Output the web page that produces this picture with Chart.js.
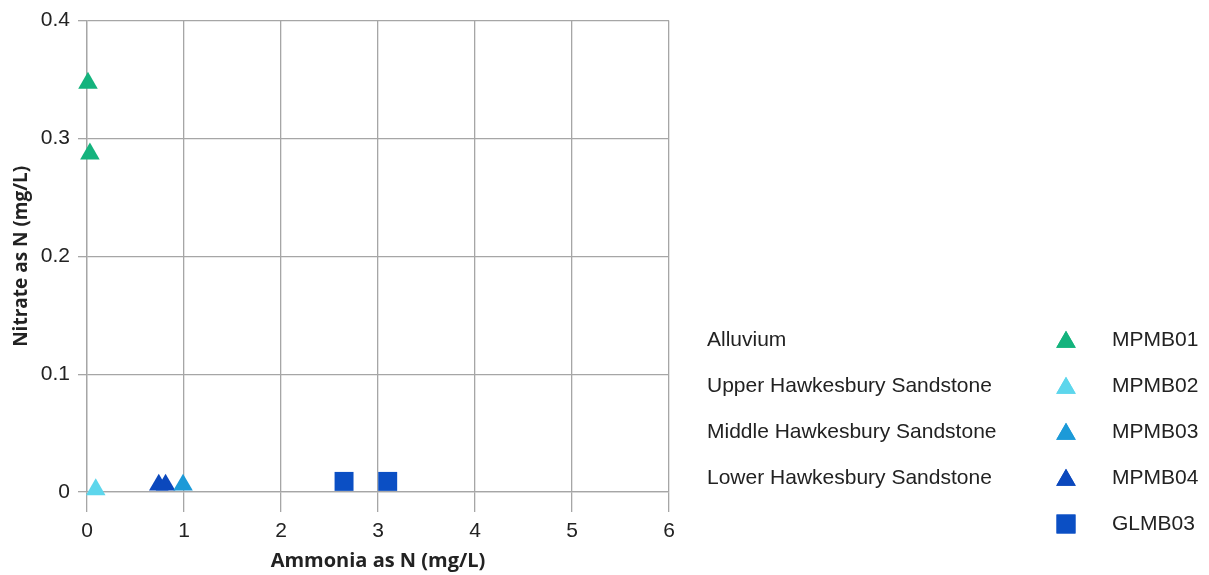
<!DOCTYPE html>
<html>
<head>
<meta charset="utf-8">
<script src="https://cdn.jsdelivr.net/npm/chart.js@4"></script>
<style>
  html, body { margin: 0; padding: 0; background: #fff; }
  #wrap { width: 1209px; height: 575px; position: relative; }
</style>
</head>
<body>
<div id="wrap"><canvas id="c" width="1209" height="575"></canvas></div>
<script>
// ---- data ----
const seriesNames = ['MPMB01', 'MPMB02', 'MPMB03', 'MPMB04', 'GLMB03'];
const groupLabels = ['Alluvium', 'Upper Hawkesbury Sandstone', 'Middle Hawkesbury Sandstone', 'Lower Hawkesbury Sandstone'];
const mpmb01 = [{x: 0.01, y: 0.347}, {x: 0.03, y: 0.287}];
const mpmb02 = [{x: 0.09, y: 0.002}];
const mpmb03 = [{x: 0.99, y: 0.006}];
const mpmb04 = [{x: 0.74, y: 0.006}, {x: 0.81, y: 0.006}];
const glmb03 = [{x: 2.65, y: 0.009}, {x: 3.10, y: 0.009}];
const xTicks = [0, 1, 2, 3, 4, 5, 6];
const yTicks = [0, 0.1, 0.2, 0.3, 0.4];
const xTitle = 'Ammonia as N (mg/L)';
const yTitle = 'Nitrate as N (mg/L)';

const colors = ['#14b37d', '#5dd6ec', '#1c9ad8', '#0b48bd', '#0b4fc4'];
const styles = ['triangle', 'triangle', 'triangle', 'triangle', 'rect'];
const seriesData = [mpmb01, mpmb02, mpmb03, mpmb04, glmb03];

const datasets = seriesNames.map((n, i) => ({
  label: n,
  data: seriesData[i],
  pointStyle: styles[i],
  pointRadius: styles[i] === 'rect' ? 13.4 : 11.3,
  pointHoverRadius: styles[i] === 'rect' ? 13.4 : 11.3,
  backgroundColor: colors[i],
  borderColor: colors[i],
  borderWidth: 0,
  showLine: false,
  clip: false
}));

const legendPlugin = {
  id: 'customLegend',
  afterDraw(chart) {
    const ctx = chart.ctx;
    const rowY = [340, 386, 432, 478, 524];
    ctx.save();
    ctx.font = '21px "Liberation Sans", Arial, sans-serif';
    ctx.fillStyle = '#222';
    ctx.textBaseline = 'middle';
    ctx.textAlign = 'left';
    groupLabels.forEach((g, i) => ctx.fillText(g, 707, rowY[i]));
    chart.data.datasets.forEach((ds, i) => {
      ctx.fillStyle = ds.backgroundColor;
      const r = ds.pointRadius;
      Chart.helpers.drawPoint(ctx, {pointStyle: ds.pointStyle, radius: r, borderWidth: 0, rotation: 0}, 1066, rowY[i] + (ds.pointStyle === 'triangle' ? 2 : 0));
      ctx.fill();
      ctx.fillStyle = '#222';
      ctx.fillText(ds.label, 1112, rowY[i]);
    });
    ctx.restore();
  }
};

new Chart(document.getElementById('c'), {
  type: 'scatter',
  data: { datasets },
  options: {
    responsive: false,
    animation: false,
    events: [],
    layout: { padding: { top: 20, right: 540, bottom: 2, left: 10 } },
    plugins: { legend: { display: false }, tooltip: { enabled: false } },
    scales: {
      x: {
        type: 'linear', min: 0, max: 6,
        afterBuildTicks: s => { s.ticks = xTicks.map(v => ({value: v})); },
        afterFit: s => { s.height = 575 - 492 - 2; },
        grid: { color: '#a6a6a6', lineWidth: 1.3, tickLength: 20, drawTicks: true },
        border: { color: '#a6a6a6', width: 1.3 },
        ticks: { font: { family: '"Liberation Sans", Arial, sans-serif', size: 21 }, color: '#222', padding: 7, maxRotation: 0 },
        title: { display: true, text: xTitle, font: { family: '"Open Sans", sans-serif', size: 20, weight: 'bold' }, color: '#222', padding: { top: 0, bottom: 0 } }
      },
      y: {
        type: 'linear', min: 0, max: 0.4,
        afterBuildTicks: s => { s.ticks = yTicks.map(v => ({value: v})); },
        afterFit: s => { s.width = 87 - 10; },
        grid: { color: '#a6a6a6', lineWidth: 1.3, tickLength: 9 },
        border: { color: '#a6a6a6', width: 1.3 },
        ticks: { font: { family: '"Liberation Sans", Arial, sans-serif', size: 21 }, color: '#222', padding: 8,
                 callback: v => (v === 0 ? '0' : String(Math.round(v * 10) / 10)) },
        title: { display: true, text: yTitle, font: { family: '"Open Sans", sans-serif', size: 19, weight: 'bold' }, color: '#222', padding: { top: 0, bottom: 0 } }
      }
    }
  },
  plugins: [legendPlugin]
});
</script>
</body>
</html>
